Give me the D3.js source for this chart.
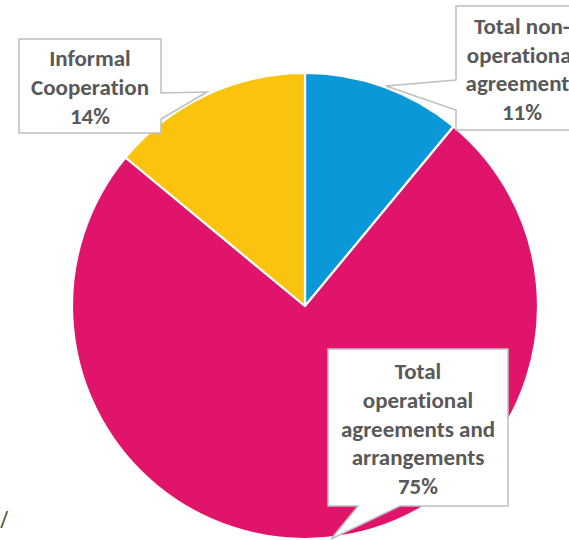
<!DOCTYPE html>
<html>
<head>
<meta charset="utf-8">
<script src="https://cdn.jsdelivr.net/npm/d3@7"></script>
<style>
  html, body { margin: 0; padding: 0; background: #fff; overflow: hidden; }
  svg { display: block; }
  text { font-variant-ligatures: none; font-feature-settings: "liga" 0; }
</style>
</head>
<body>
<div id="chart"></div>
<script>
const categories = ["Total non-operational agreements", "Total operational agreements and arrangements", "Informal Cooperation"];
const values = [11, 75, 14];
const labelLines = [
  ["Total non-", "operational", "agreements"],
  ["Total", "operational", "agreements and", "arrangements"],
  ["Informal", "Cooperation"]
];
const colors = ["#0b98d8", "#e0146a", "#fac30d"];

// callout boxes: box, wedge base points on box edge, wedge tip
const callouts = [
  { x: 456, y: 6, w: 132, h: 124, side: "left", base: [80, 110], tip: [386, 86] },
  { x: 328, y: 349, w: 180, h: 157, side: "bottom", base: [400, 358], tip: [331, 539] },
  { x: 19, y: 39, w: 142, h: 94, side: "right", base: [119, 93], tip: [207, 92] }
];

const width = 569, height = 540;
const cx = 305, cy = 306, radius = 233;
const lineH = 28.8;

const svg = d3.select("#chart")
  .append("svg")
  .attr("width", width)
  .attr("height", height);

const pie = d3.pie().sort(null).value(d => d)(values);
const arc = d3.arc().innerRadius(0).outerRadius(radius);

svg.append("g")
  .attr("transform", `translate(${cx},${cy})`)
  .selectAll("path")
  .data(pie)
  .enter()
  .append("path")
  .attr("d", arc)
  .attr("fill", (d, i) => colors[i])
  .attr("stroke", "#fff")
  .attr("stroke-width", 2.2)
  .attr("stroke-linejoin", "round");

function calloutPath(c) {
  const x0 = c.x, y0 = c.y, x1 = c.x + c.w, y1 = c.y + c.h;
  const t = c.tip;
  if (c.side === "left") {
    return `M${x0},${y0}H${x1}V${y1}H${x0}V${c.base[1]}L${t[0]},${t[1]}L${x0},${c.base[0]}Z`;
  }
  if (c.side === "right") {
    return `M${x0},${y0}H${x1}V${c.base[1]}L${t[0]},${t[1]}L${x1},${c.base[0]}V${y1}H${x0}Z`;
  }
  // bottom
  return `M${x0},${y0}H${x1}V${y1}H${c.base[0]}L${t[0]},${t[1]}L${c.base[1]},${y1}H${x0}Z`;
}

const total = d3.sum(values);

const labels = svg.append("g");
callouts.forEach((c, i) => {
  labels.append("path")
    .attr("d", calloutPath(c))
    .attr("fill", "#fff")
    .attr("stroke", "#bfbfbf")
    .attr("stroke-width", 1.5);

  const lines = labelLines[i].concat([Math.round(values[i] / total * 100) + "%"]);
  // middle baseline sits a little below the box centre
  const firstBase = c.y + c.h / 2 + 9 - (lines.length - 1) / 2 * lineH;

  const text = labels.append("text")
    .attr("text-anchor", "middle")
    .attr("font-family", "Carlito, Lato, 'Open Sans', sans-serif")
    .attr("font-weight", "bold")
    .attr("font-size", "23px")
    .attr("fill", "#595959");

  lines.forEach((l, j) => {
    text.append("tspan")
      .attr("x", c.x + c.w / 2)
      .attr("y", firstBase + j * lineH)
      .text(l);
  });
});

// stray glyph at the left edge
svg.append("text")
  .attr("x", 0)
  .attr("y", 528)
  .attr("font-family", "'Open Sans', sans-serif")
  .attr("font-size", "23px")
  .attr("fill", "#595959")
  .text("/");
</script>
</body>
</html>
